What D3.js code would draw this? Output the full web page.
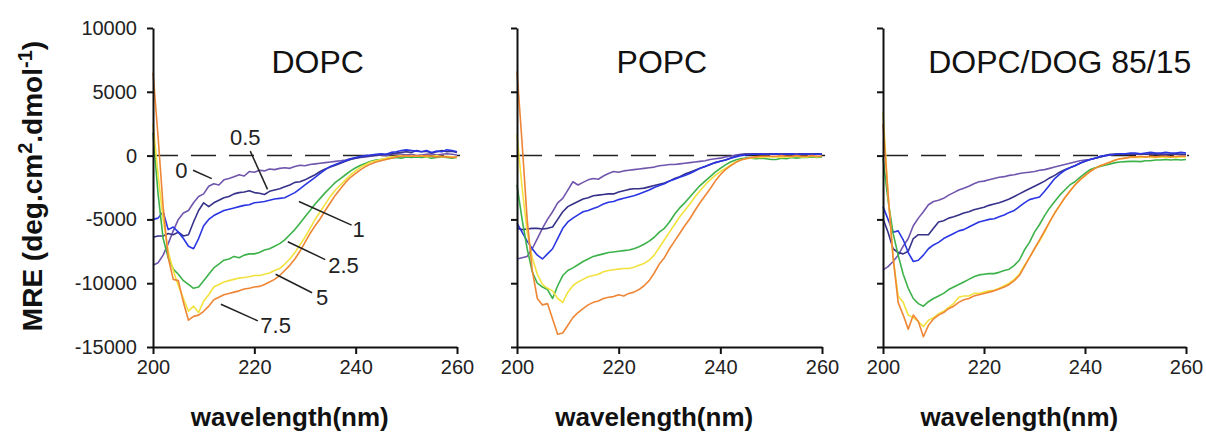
<!DOCTYPE html>
<html><head><meta charset="utf-8">
<script src="https://cdn.jsdelivr.net/npm/d3@7"></script>
<style>
body{margin:0;background:#fff}
svg{display:block}
text{font-family:"Liberation Sans",Arial,Helvetica,sans-serif}
</style>
</head><body>
<svg id="chart" width="1206" height="438"></svg>
<script>
// ---------------- data ----------------
const wavelengths = [
 200,201,202,203,204,205,206,207,208,209,
 210,211,212,213,214,215,216,217,218,219,
 220,221,222,223,224,225,226,227,228,229,
 230,231,232,233,234,235,236,237,238,239,
 240,241,242,243,244,245,246,247,248,249,
 250,251,252,253,254,255,256,257,258,259,
 260];
const concentrations = ["0","0.5","1","2.5","5","7.5"];
const panelTitles = ["DOPC","POPC","DOPC/DOG 85/15"];
const xTicks = [200,220,240,260];
const yTicks = [10000,5000,0,-5000,-10000,-15000];

// DOPC
const dopc_0 = [-8600,-8400,-7800,-6900,-5900,-5000,-4500,-4300,-3700,-3200,
 -3000,-2400,-2200,-2300,-1900,-1800,-1650,-1500,-1600,-1250,
 -1300,-1150,-1200,-1050,-1100,-1000,-950,-1000,-850,-750,
 -800,-700,-650,-600,-550,-500,-450,-400,-350,-250,
 -200,-150,-100,-50,0,50,0,80,150,100,
 50,100,0,50,100,150,50,100,150,100,
 50];
const dopc_05 = [-6400,-6300,-6300,-6100,-6200,-6000,-6300,-6200,-5200,-4300,
 -3700,-4000,-3700,-3500,-3300,-3200,-3000,-2900,-2850,-2750,
 -2900,-2950,-3050,-2800,-2700,-2600,-2450,-2300,-2100,-2050,
 -1900,-1700,-1500,-1250,-1050,-900,-750,-600,-450,-300,
 -200,-100,-50,0,50,80,100,150,200,250,
 300,250,400,300,350,200,300,400,300,350,
 250];
const dopc_1 = [-5000,-4900,-4400,-5800,-5600,-6000,-6500,-7100,-7300,-6500,
 -5500,-5000,-4700,-4500,-4300,-4200,-4100,-4000,-3900,-3850,
 -3700,-3650,-3600,-3500,-3400,-3350,-3300,-3100,-2900,-2600,
 -2300,-2000,-1700,-1400,-1100,-850,-700,-550,-400,-250,
 -150,-50,0,50,100,150,100,250,300,400,
 450,400,350,300,400,250,350,300,450,400,
 300];
const dopc_25 = [1800,-3000,-6500,-8000,-8900,-9300,-9800,-10100,-10400,-10300,
 -9800,-9300,-8800,-8500,-8200,-8100,-7900,-8000,-7800,-7700,
 -7700,-7600,-7400,-7300,-7100,-6900,-6600,-6200,-5800,-5300,
 -4800,-4300,-3800,-3350,-2900,-2500,-2100,-1800,-1500,-1200,
 -950,-750,-600,-450,-350,-300,-250,-200,-150,-200,
 -100,-150,-100,-150,-100,-200,-150,-100,-150,-200,
 -150];
const dopc_5 = [2500,-1500,-5000,-7500,-9000,-10200,-11200,-12200,-11800,-12300,
 -11400,-10900,-10300,-10100,-9900,-9800,-9700,-9600,-9550,-9500,
 -9400,-9400,-9300,-9200,-9000,-8850,-8500,-8100,-7600,-7000,
 -6400,-5700,-5000,-4400,-3800,-3200,-2700,-2300,-1900,-1500,
 -1200,-900,-700,-500,-400,-300,-200,-100,-50,0,
 -50,0,-50,0,-100,-50,0,-100,-50,-100,
 -150];
const dopc_75 = [6500,1500,-4000,-8000,-9700,-9800,-11500,-12900,-12600,-12500,
 -12200,-11800,-11300,-11100,-10900,-10800,-10700,-10600,-10450,-10400,
 -10300,-10250,-10100,-9900,-9700,-9400,-9000,-8600,-8100,-7500,
 -6800,-6100,-5500,-4950,-4300,-3700,-3100,-2600,-2100,-1700,
 -1400,-1100,-850,-650,-500,-400,-300,-200,-100,-50,
 0,-50,0,-50,0,-50,-100,-50,-100,-150,
 -100];

// POPC
const popc_0 = [-8100,-8000,-7900,-7300,-6500,-5700,-5000,-4400,-3700,-3350,
 -2700,-2050,-2300,-2100,-1900,-1800,-1850,-1600,-1400,-1250,
 -1300,-1200,-1150,-1100,-1050,-1000,-950,-900,-800,-750,
 -700,-700,-650,-600,-550,-500,-450,-400,-300,-250,
 -200,-100,-50,50,100,150,150,100,150,150,
 100,150,150,100,150,100,150,100,150,150,
 100];
const popc_05 = [-5700,-5800,-5750,-5700,-5700,-5750,-5700,-5600,-5000,-4400,
 -4000,-3800,-3600,-3400,-3300,-3150,-3100,-3050,-3000,-3000,
 -2850,-2750,-2650,-2600,-2600,-2550,-2450,-2350,-2250,-2150,
 -2000,-1800,-1650,-1450,-1300,-1150,-1000,-850,-700,-550,
 -450,-350,-200,-50,50,100,100,150,100,100,
 150,100,100,150,100,100,150,100,100,150,
 100];
const popc_1 = [-5300,-6000,-6700,-7300,-7800,-8100,-7700,-7300,-6500,-5700,
 -5200,-4900,-4650,-4400,-4300,-4150,-4000,-3800,-3650,-3600,
 -3450,-3350,-3250,-3150,-3000,-2850,-2700,-2500,-2350,-2200,
 -2000,-1850,-1700,-1550,-1400,-1200,-1000,-850,-700,-550,
 -450,-350,-200,-100,0,50,100,100,150,100,
 100,150,100,100,150,100,100,150,100,100,
 100];
const popc_25 = [-2300,-5000,-7300,-9100,-10000,-10300,-10500,-11200,-10200,-9400,
 -9000,-8800,-8550,-8300,-8100,-7900,-7800,-7700,-7600,-7550,
 -7500,-7450,-7400,-7300,-7150,-6950,-6700,-6400,-6000,-5700,
 -5200,-4600,-4100,-3700,-3250,-2800,-2350,-2000,-1650,-1300,
 -1000,-730,-500,-350,-250,-200,-200,-250,-200,-250,
 -300,-300,-200,-250,-150,-200,-150,-150,-100,-150,
 -100];
const popc_5 = [1650,-2500,-6000,-8000,-9300,-10100,-10400,-10600,-11200,-11500,
 -10700,-10200,-9900,-9700,-9500,-9400,-9300,-9100,-9000,-8950,
 -8900,-8850,-8850,-8750,-8600,-8450,-8200,-7800,-7200,-6600,
 -6000,-5400,-4800,-4300,-3800,-3250,-2750,-2300,-1900,-1550,
 -1250,-1000,-750,-500,-350,-250,-200,-150,-150,-100,
 -100,-100,-150,-100,-100,-50,-100,-100,-50,-100,
 -50];
const popc_75 = [6600,1000,-5000,-9000,-11200,-11700,-11600,-12800,-14000,-13900,
 -13300,-12700,-12300,-12000,-11700,-11500,-11400,-11200,-11100,-11050,
 -10900,-11000,-10800,-10700,-10500,-10200,-9800,-9200,-8500,-8000,
 -7300,-6700,-6100,-5500,-4950,-4300,-3700,-3150,-2600,-2000,
 -1500,-1100,-800,-550,-350,-250,-150,-100,-50,-50,
 -50,-50,0,-50,-50,0,-50,-50,0,-50,
 -50];

// DOPC/DOG 85/15
const dog_0 = [-8950,-8700,-8300,-7800,-7100,-6500,-5500,-4900,-4400,-3850,
 -3600,-3500,-3350,-3100,-2900,-2700,-2550,-2400,-2200,-2050,
 -2000,-1900,-1800,-1700,-1650,-1550,-1500,-1400,-1350,-1300,
 -1250,-1150,-1100,-1000,-900,-800,-700,-600,-500,-400,
 -350,-300,-200,-100,0,50,100,100,150,100,
 100,150,100,100,150,100,50,100,100,50,
 50];
const dog_05 = [-4950,-6000,-7300,-7600,-7700,-7500,-6500,-6200,-6200,-6200,
 -5700,-5200,-5100,-4900,-4800,-4650,-4500,-4400,-4250,-4150,
 -4050,-3900,-3800,-3700,-3550,-3400,-3200,-3000,-2800,-2600,
 -2400,-2200,-2000,-1750,-1550,-1300,-1100,-950,-800,-600,
 -450,-300,-200,-100,0,100,100,150,100,150,
 100,150,100,150,100,150,100,100,150,100,
 100];
const dog_1 = [-4000,-5000,-6000,-5900,-6600,-7600,-8300,-8200,-7800,-7300,
 -7000,-6800,-6500,-6300,-6100,-5900,-5800,-5600,-5400,-5200,
 -5100,-5000,-4950,-4800,-4650,-4450,-4300,-4000,-3700,-3450,
 -3350,-3250,-2800,-2300,-1800,-1450,-1150,-950,-800,-600,
 -450,-300,-200,-50,0,50,100,150,150,200,
 200,150,200,250,200,200,250,200,200,250,
 200];
const dog_25 = [-200,-3500,-6100,-7800,-9300,-10400,-11200,-11600,-11800,-11450,
 -11200,-11000,-10800,-10500,-10300,-10100,-9900,-9700,-9500,-9350,
 -9300,-9250,-9250,-9150,-9000,-8900,-8600,-8200,-7400,-6800,
 -6000,-5400,-4700,-4100,-3600,-3100,-2700,-2300,-2050,-1700,
 -1400,-1100,-950,-850,-750,-650,-550,-500,-470,-450,
 -450,-470,-400,-400,-350,-350,-300,-350,-300,-350,
 -300];
const dog_5 = [3450,-3000,-8000,-11000,-11500,-12500,-12700,-13000,-13400,-12900,
 -12700,-12400,-12200,-11900,-11600,-11100,-11000,-11000,-10800,-10800,
 -10700,-10600,-10550,-10400,-10200,-10000,-9700,-9300,-8600,-8000,
 -7300,-6700,-6000,-5200,-4500,-3900,-3300,-2800,-2300,-1900,
 -1600,-1250,-1000,-800,-650,-500,-350,-250,-200,-150,
 -150,-150,-100,-150,-150,-100,-150,-100,-150,-100,
 -100];
const dog_75 = [2500,-3000,-8000,-11500,-12500,-13600,-12500,-13000,-14200,-13300,
 -12800,-12500,-12300,-12000,-11800,-11500,-11300,-11200,-11000,-10900,
 -10800,-10700,-10600,-10450,-10300,-10100,-9800,-9400,-8700,-8000,
 -7300,-6600,-5900,-5200,-4500,-3900,-3300,-2800,-2300,-1900,
 -1550,-1250,-1000,-800,-650,-500,-350,-250,-200,-100,
 -100,-50,-100,-50,-100,-50,-50,-100,-50,-50,
 -50];

// annotation labels for the DOPC panel (data units: wavelength, MRE)
const annotations = [
 {label:"0",   tx:205.6, ty:-1100,  x1:207.9, y1:-1150, x2:211.6, y2:-1800},
 {label:"0.5", tx:218.2, ty:1450,   x1:219.2, y1:350,   x2:222.6, y2:-2650},
 {label:"1",   tx:240.6, ty:-5750,  x1:228.8, y1:-3600, x2:239.2, y2:-5450},
 {label:"2.5", tx:237.6, ty:-8550,  x1:226.6, y1:-6750, x2:234.0, y2:-8150},
 {label:"5",   tx:233.4, ty:-11100, x1:224.2, y1:-9300, x2:231.4, y2:-10750},
 {label:"7.5", tx:224.2, ty:-13250, x1:213.4, y1:-11650,x2:220.7, y2:-12950}
];

// ---------------- build ----------------
const panelSeries = [
 [dopc_0, dopc_05, dopc_1, dopc_25, dopc_5, dopc_75],
 [popc_0, popc_05, popc_1, popc_25, popc_5, popc_75],
 [dog_0,  dog_05,  dog_1,  dog_25,  dog_5,  dog_75]
];
const colors = ["#7056ad","#363189","#2a36e4","#3db24a","#f2e23e","#ee8636"];
const panelX = [[153,457],[517,822],[883,1186]];
const titleAt = [232.5, 228.5, 235];
const xLabelAt = 227;

const svg = d3.select("#chart");
const y = d3.scaleLinear().domain([-15000,10000]).range([347,28]);

panelSeries.forEach((series, pi) => {
  const x = d3.scaleLinear().domain([200,260]).range(panelX[pi]);
  const g = svg.append("g");

  // zero dashed line
  g.append("line")
    .attr("x1", x(200)).attr("x2", x(260)+3)
    .attr("y1", y(0)).attr("y2", y(0))
    .attr("stroke", "#222").attr("stroke-width", 1.5)
    .attr("stroke-dasharray", "25,13");

  // curves
  const line = d3.line().x(d => x(d[0])).y(d => y(d[1]));
  series.forEach((vals, si) => {
    const pts = wavelengths.map((w, i) => [w, vals[i]]).filter(d => d[1] !== undefined);
    g.append("path").datum(pts)
      .attr("d", line)
      .attr("fill", "none")
      .attr("stroke", colors[si])
      .attr("stroke-width", 1.6)
      .attr("stroke-linejoin", "round");
  });

  // axes
  const yAxis = d3.axisLeft(y).tickValues(yTicks).tickSize(6).tickSizeOuter(0).tickPadding(10)
    .tickFormat(d => pi === 0 ? String(d) : "");
  const ya = g.append("g").attr("transform", `translate(${x(200)},0)`).call(yAxis);
  const xAxis = d3.axisBottom(x).tickValues(xTicks).tickSize(7).tickSizeOuter(0).tickPadding(6)
    .tickFormat(d => String(d));
  const xa = g.append("g").attr("transform", `translate(0,${y(-15000)})`).call(xAxis);
  [ya, xa].forEach(a => {
    a.select(".domain").attr("stroke", "#111").attr("stroke-width", 2);
    a.selectAll(".tick line").attr("stroke", "#111").attr("stroke-width", 2);
    a.selectAll(".tick text").attr("fill", "#222").attr("font-size", 20)
      .style("font-family", '"Liberation Sans",Arial,sans-serif');
  });

  // title
  g.append("text")
    .attr("x", x(titleAt[pi])).attr("y", y(6450))
    .attr("text-anchor", "middle").attr("font-size", 32).attr("fill", "#111")
    .text(panelTitles[pi]);

  // x-axis label
  g.append("text")
    .attr("x", x(xLabelAt)).attr("y", 426)
    .attr("text-anchor", "middle").attr("font-size", 26).attr("font-weight", "bold").attr("fill", "#111")
    .text("wavelength(nm)");

  // annotations (DOPC panel)
  if (pi === 0) {
    annotations.forEach(a => {
      g.append("line")
        .attr("x1", x(a.x1)).attr("y1", y(a.y1))
        .attr("x2", x(a.x2)).attr("y2", y(a.y2))
        .attr("stroke", "#222").attr("stroke-width", 1.5);
      g.append("text")
        .attr("x", x(a.tx)).attr("y", y(a.ty)).attr("dy", "0.36em")
        .attr("text-anchor", "middle").attr("font-size", 22).attr("fill", "#222")
        .text(a.label);
    });
  }
});

// y-axis label
const yl = svg.append("text")
  .attr("transform", "translate(42,186) rotate(-90)")
  .attr("text-anchor", "middle").attr("font-size", 28).attr("font-weight", "bold").attr("fill", "#111");
yl.append("tspan").text("MRE (deg.cm");
yl.append("tspan").attr("font-size", 20).attr("dy", -10).text("2");
yl.append("tspan").attr("dy", 10).text(".dmol");
yl.append("tspan").attr("font-size", 20).attr("dy", -10).text("-1");
yl.append("tspan").attr("dy", 10).text(")");
</script>
</body></html>
